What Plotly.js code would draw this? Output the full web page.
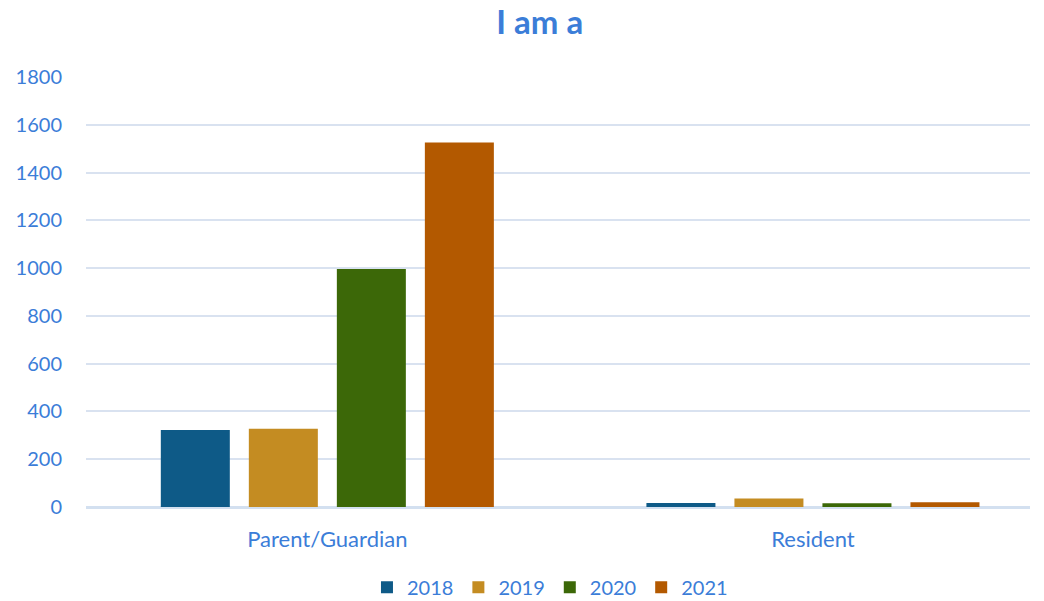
<!DOCTYPE html>
<html><head><meta charset="utf-8">
<script src="https://cdn.plot.ly/plotly-3.0.1.min.js"></script>
<style>html,body{margin:0;padding:0;background:#fff}#chart{width:1044px;height:601px}</style>
</head><body><div id="chart"></div>
<script>
const categories = ["Parent/Guardian", "Resident"];
const years = ["2018", "2019", "2020", "2021"];
const v2018 = [322, 17];
const v2019 = [328, 36];
const v2020 = [996, 16];
const v2021 = [1526, 20];
const yTicks = [0, 200, 400, 600, 800, 1000, 1200, 1400, 1600, 1800];
const colors = ["#0e5a87", "#c48c22", "#3c6808", "#b35900"];
const series = [v2018, v2019, v2020, v2021];
const txt = "#3b7dd8";
const font = "Lato, 'Open Sans', sans-serif";
const data = series.map((s, i) => ({
  type: "bar", x: categories, y: s, name: years[i],
  marker: {color: colors[i]}, hoverinfo: "x+y+name"
}));
const layout = {
  width: 1044, height: 601,
  margin: {l: 86, r: 14, t: 77, b: 94, autoexpand: false},
  paper_bgcolor: "#fff", plot_bgcolor: "#fff",
  title: {text: "<b>I am a</b>", x: 0.517, xanchor: "center", yref: "container", y: 0.962, yanchor: "middle",
          font: {family: font, size: 33, color: txt}},
  barmode: "group", bargap: 0.275, bargroupgap: 0.216,
  xaxis: {type: "category", range: [-0.497, 1.447], tickfont: {family: font, size: 22, color: txt},
          showline: true, linecolor: "#d3e0f0", linewidth: 1.5, ticks: "outside", ticklen: 12,
          tickcolor: "rgba(0,0,0,0)", showgrid: false},
  yaxis: {range: [0, 1800], tickvals: yTicks, ticktext: yTicks.map(String),
          tickfont: {family: font, size: 20, color: txt}, gridcolor: "#d9e2f0", gridwidth: 1.5,
          zeroline: true, zerolinecolor: "#d3e0f0", zerolinewidth: 1.5, ticks: "outside", ticklen: 19, tickcolor: "rgba(0,0,0,0)"},
  legend: {orientation: "h", x: 0.4915, xanchor: "center", yref: "container", y: 0.023, yanchor: "middle",
           font: {family: font, size: 20, color: txt}, itemwidth: 30, traceorder: "normal"},
  showlegend: true
};
Plotly.newPlot("chart", data, layout, {displayModeBar: false});
</script></body></html>
